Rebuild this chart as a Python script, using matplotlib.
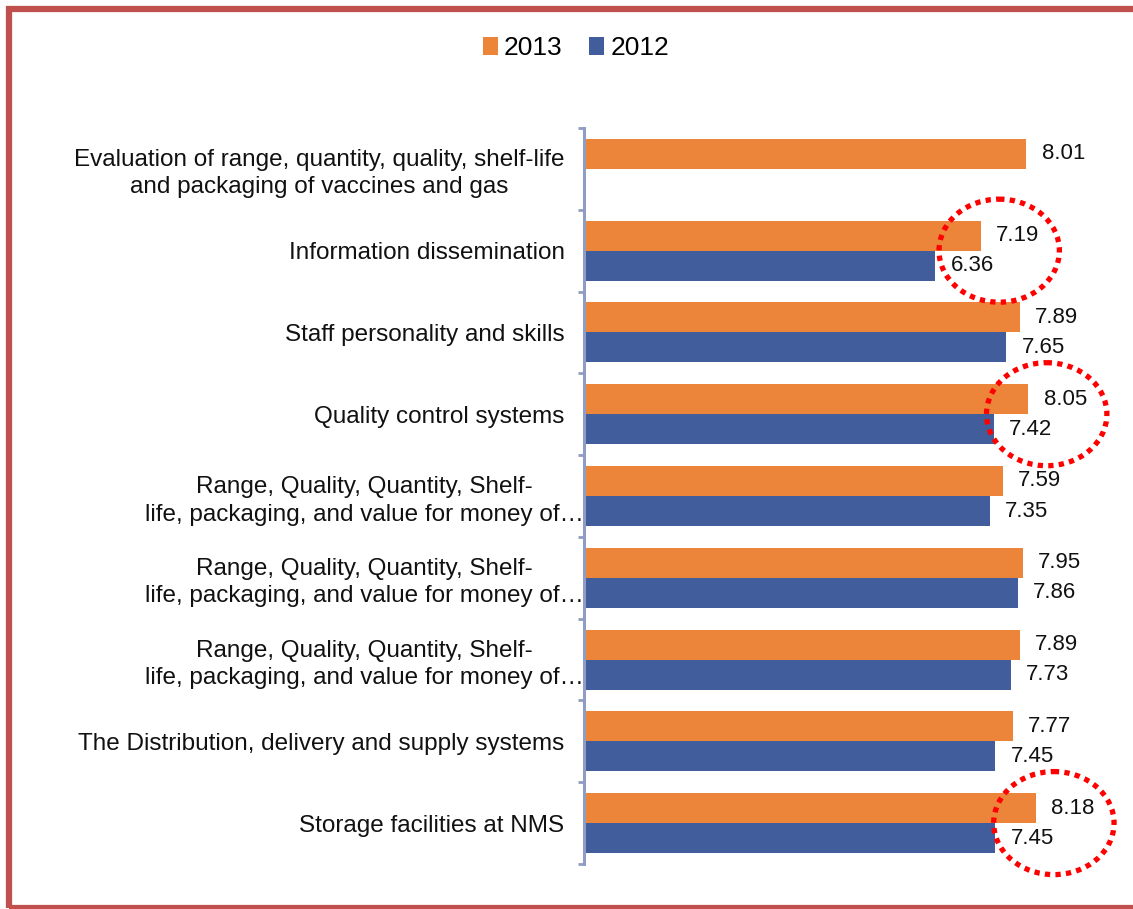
import numpy as np
import matplotlib
matplotlib.use("Agg")
import matplotlib.pyplot as plt
import matplotlib.transforms as mtransforms
from matplotlib.patches import Ellipse, Rectangle

plt.rcParams['font.family'] = ['Liberation Sans', 'DejaVu Sans']

categories = [
    "Evaluation of range, quantity, quality, shelf-life\nand packaging of vaccines and gas",
    "Information dissemination",
    "Staff personality and skills",
    "Quality control systems",
    "Range, Quality, Quantity, Shelf-\nlife, packaging, and value for money of\u2026",
    "Range, Quality, Quantity, Shelf-\nlife, packaging, and value for money of\u2026",
    "Range, Quality, Quantity, Shelf-\nlife, packaging, and value for money of\u2026",
    "The Distribution, delivery and supply systems",
    "Storage facilities at NMS",
]
scores_2013 = [8.01, 7.19, 7.89, 8.05, 7.59, 7.95, 7.89, 7.77, 8.18]
scores_2012 = [None, 6.36, 7.65, 7.42, 7.35, 7.86, 7.73, 7.45, 7.45]
# rows whose change is circled
highlight = [1, 3, 8]

orange = '#ec853a'
blue = '#415d9c'
axis_col = '#8f9cc3'

fig = plt.figure(figsize=(11.33, 9.09), dpi=100)
ax = fig.add_axes([584 / 1133, 45 / 909, 519 / 1133, 736 / 909])

h = 0.367
y = np.arange(len(categories))
b13 = ax.barh(y - h / 2, scores_2013, height=h, color=orange, label='2013')
idx12 = [i for i, v in enumerate(scores_2012) if v is not None]
vals12 = [scores_2012[i] for i in idx12]
b12 = ax.barh(np.array(idx12) + h / 2, vals12, height=h, color=blue, label='2012')

for bars in (b13, b12):
    ax.bar_label(bars, labels=[f'{v:.2f}' for v in bars.datavalues],
                 padding=11, fontsize=16, color='#111111')

ax.set_xlim(0, 9.4)
ax.set_ylim(len(categories) - 0.5, -0.5)

for s in ('top', 'right', 'bottom'):
    ax.spines[s].set_visible(False)
ax.spines['left'].set_color(axis_col)
ax.spines['left'].set_linewidth(2.2)
ax.set_xticks([])

ax.set_yticks(y, categories)
ax.tick_params(axis='y', which='major', length=0, pad=14, labelsize=17.5,
               labelcolor='#111111')
ax.set_yticks(np.arange(len(categories) + 1) - 0.5, minor=True)
ax.tick_params(axis='y', which='minor', length=4.5, width=2, color=axis_col)

# cut-off labels run right up to the axis
nudge = mtransforms.ScaledTranslation(14 / 72, 0, fig.dpi_scale_trans)
for lbl in ax.get_yticklabels():
    lbl.set_multialignment('center')
    lbl.set_linespacing(1.3)
    if lbl.get_text().endswith('\u2026'):
        lbl.set_transform(lbl.get_transform() + nudge)

# dotted red rings round the highlighted value pairs
for i in highlight:
    top = max(scores_2013[i], scores_2012[i])
    ax.add_patch(Ellipse((top + 0.33, i), 2.18, 1.26, fill=False,
                         edgecolor='#ff0000', linewidth=3.8,
                         linestyle=(0, (1, 1)), clip_on=False, zorder=5))

fig.legend(handles=[b13, b12], labels=['2013', '2012'], loc='center',
           bbox_to_anchor=(576 / 1133, 1 - 48 / 909), ncol=2, frameon=False,
           fontsize=19, handlelength=0.55, handleheight=0.7,
           handletextpad=0.25, columnspacing=1.0)

# outer frame
fig.patches.append(Rectangle((9 / 1133, 1 / 909), 1.2, 1 - 10 / 909,
                             transform=fig.transFigure, fill=False,
                             edgecolor='#c0504d', linewidth=4.5))

fig.savefig('out.png', dpi=100)
